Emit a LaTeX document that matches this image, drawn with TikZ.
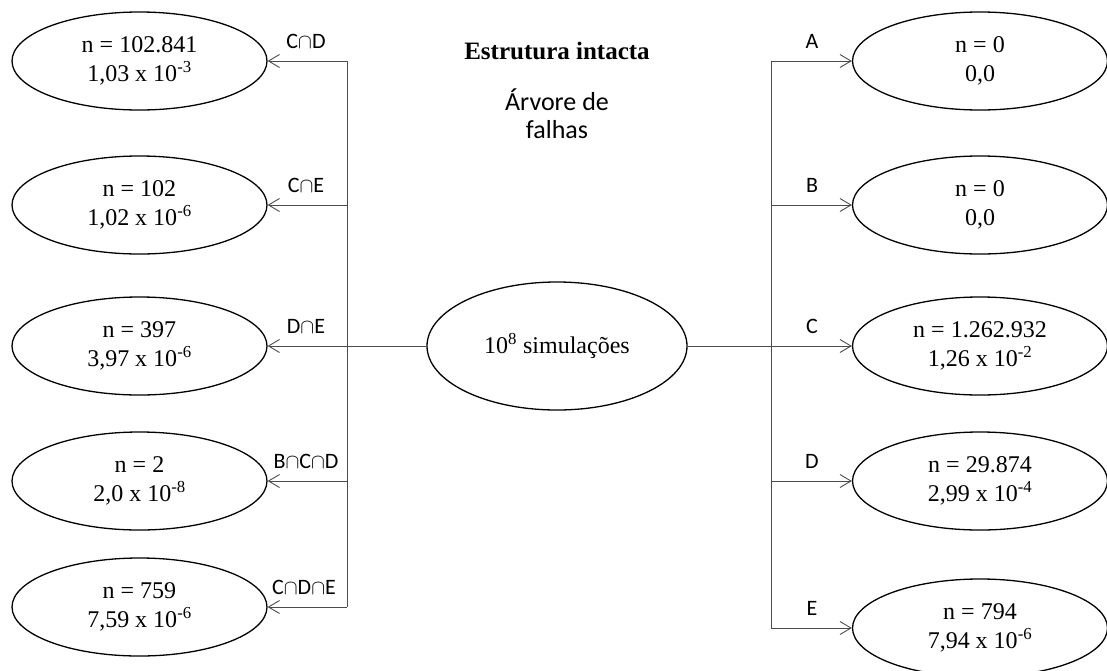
\documentclass[tikz,border=0pt]{standalone}
\usepackage{fontspec}
\setmainfont{Liberation Serif}
\newfontfamily\labfont{Carlito}
\usetikzlibrary{shapes.geometric,arrows.meta}
\begin{document}
\begin{tikzpicture}[x=1pt,y=-1pt,
  ell/.style={draw=black,line width=1.3pt,ellipse,minimum width=255pt,minimum height=98pt,inner sep=0pt,align=center,font=\fontsize{24}{29}\selectfont},
  conn/.style={draw=black!70,line width=0.9pt},
  arr/.style={conn,-{Straight Barb[length=11pt,width=13pt,line width=0.9pt]}},
  lab/.style={anchor=base,inner sep=0pt,font=\labfont\fontsize{22}{26}\selectfont}]
\useasboundingbox (0,0) rectangle (1107,670);
% title
\node[font=\bfseries\fontsize{25}{30}\selectfont] (title) at (557,51) {Estrutura intacta};
\node[font=\labfont\fontsize{26}{28}\selectfont,align=center,anchor=base] (sub) at (557,138) {Árvore de\\falhas};
% center
\node[ell,minimum width=260pt,minimum height=128pt] (C) at (557,346) {10\textsuperscript{8} simulações};
% left ellipses
\node[ell] (L1) at (139.5,61) {n = 102.841\\1,03 x 10\textsuperscript{-3}};
\node[ell] (L2) at (139.5,205) {n = 102\\1,02 x 10\textsuperscript{-6}};
\node[ell] (L3) at (139.5,346) {n = 397\\3,97 x 10\textsuperscript{-6}};
\node[ell] (L4) at (139.5,481) {n = 2\\2,0 x 10\textsuperscript{-8}};
\node[ell] (L5) at (139.5,607) {n = 759\\7,59 x 10\textsuperscript{-6}};
% right ellipses
\node[ell] (R1) at (980,61) {n = 0\\0,0};
\node[ell] (R2) at (980,205) {n = 0\\0,0};
\node[ell] (R3) at (980,346) {n = 1.262.932\\1,26 x 10\textsuperscript{-2}};
\node[ell] (R4) at (980,481) {n = 29.874\\2,99 x 10\textsuperscript{-4}};
\node[ell] (R5) at (980,628) {n = 794\\7,94 x 10\textsuperscript{-6}};
% trunk coordinates
\coordinate (lt1) at (347,61);
\coordinate (lt2) at (347,205);
\coordinate (lt3) at (347,346);
\coordinate (lt4) at (347,481);
\coordinate (lt5) at (347,607);
\coordinate (rt1) at (771,61);
\coordinate (rt2) at (771,205);
\coordinate (rt3) at (771,346);
\coordinate (rt4) at (771,481);
\coordinate (rt5) at (771,628);
% trunks
\draw[conn] (lt1) -- (lt5);
\draw[conn] (rt1) -- (rt5);
\draw[conn] (C.west) -- (lt3);
\draw[conn] (C.east) -- (rt3);
% arrows
\draw[arr] (lt1) -- (L1.east);
\draw[arr] (lt2) -- (L2.east);
\draw[arr] (lt3) -- (L3.east);
\draw[arr] (lt4) -- (L4.east);
\draw[arr] (lt5) -- (L5.east);
\draw[arr] (rt1) -- (R1.west);
\draw[arr] (rt2) -- (R2.west);
\draw[arr] (rt3) -- (R3.west);
\draw[arr] (rt4) -- (R4.west);
\draw[arr] (rt5) -- (R5.west);
% labels
\node[lab] (la1) at (306,48) {C$\cap$D};
\node[lab] (la2) at (306,192) {C$\cap$E};
\node[lab] (la3) at (306,333) {D$\cap$E};
\node[lab] (la4) at (306,468) {B$\cap$C$\cap$D};
\node[lab] (la5) at (304,594) {C$\cap$D$\cap$E};
\node[lab] (ra1) at (812,48) {A};
\node[lab] (ra2) at (812,192) {B};
\node[lab] (ra3) at (812,333) {C};
\node[lab] (ra4) at (812,468) {D};
\node[lab] (ra5) at (812,615) {E};
\end{tikzpicture}
\end{document}
